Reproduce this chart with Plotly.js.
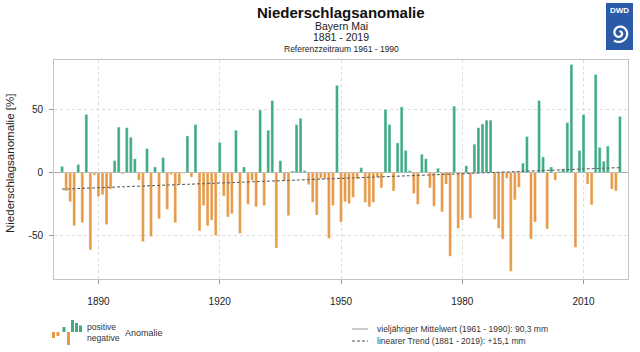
<!DOCTYPE html>
<html>
<head>
<meta charset="utf-8">
<script src="https://cdn.plot.ly/plotly-3.0.1.min.js"></script>
<style>
html,body{margin:0;padding:0;background:#fff;}
#chart{width:640px;height:352px;}
</style>
</head>
<body>
<div id="chart"></div>
<script>
// ---- data ----
const firstYear = 1881;
const lastYear = 2019;
// precipitation anomaly [%] per year, May, Bavaria (1881 ... 2019)
const anomaly = [
  // 1881-1890
  5, -14.5, -23, -42, 6.5, -39.5, 46, -61, -2, -19,
  // 1891-1900
  -17.5, -41, -13, 9.5, 36, -1, 35.5, 28, 11, -6,
  // 1901-1910
  -54.5, 19, -50.5, 4.5, -36.5, 12, -29, -1.5, -39.5, -9,
  // 1911-1920
  -0.5, 29, -3.5, 38, -46, -26, -42, -37.5, -49.5, 24,
  // 1921-1930
  -18.5, -35, -32.5, 33.5, -48, 4.5, -25, -6, -27, 49.5,
  // 1931-1940
  -26, 33.5, 57, -59.5, 9.5, -6, -34, 1.3, 38, 43,
  // 1941-1950
  1.6, -9.5, -23.5, -33.5, -4.5, -5, -52, -26, 69, -39,
  // 1951-1960
  -23, -24.5, -19.5, -5, 4, -23.5, -27, -23.5, -3.5, -12,
  // 1961-1970
  50, 38, -14.5, 23.5, 52, 17.5, 1.6, -16.5, -25, 14.5,
  // 1971-1980
  11, -12, -26.5, 3.5, -31, -9, -66, 52.5, -44, -37.5,
  // 1981-1990
  5.5, -36, 22.5, 35.5, 38.5, 41.5, 41.5, -37, -44, -52.5,
  // 1991-2000
  -4.5, -78, -21.5, -11.5, 7.5, 28.5, -52.5, -39, 57, 12.5,
  // 2001-2010
  -44.5, 4.5, -6, 1, 3, 39.5, 85.5, -59, 17.5, 46,
  // 2011-2019
  -9, -25.5, 77.5, 20, 9, 21, -13, -14.5, 44.5
];
const trendYears = [1881, 2019];
const trendValues = [-13, 4];
const xTickVals = [1890, 1920, 1950, 1980, 2010];
const xTickText = ['1890', '1920', '1950', '1980', '2010'];
const yTickVals = [-50, 0, 50];
const yTickText = ['-50', '0', '50'];

const years = [];
for (let y = firstYear; y <= lastYear; y++) years.push(y);

const posX = [], posY = [], negX = [], negY = [];
years.forEach((yr, i) => {
  const v = anomaly[i];
  if (v >= 0) { posX.push(yr); posY.push(v); } else { negX.push(yr); negY.push(v); }
});

// ---- styles ----
const GREEN = '#3eab85';
const ORANGE = '#e69a47';
const FONT = 'Liberation Sans, Arial, sans-serif';

// pixel -> paper helpers (plot area: x 54..628, y 60..279)
const L = 54, R = 628, T = 60, B = 279;
const px = x => (x - L) / (R - L);
const py = y => (B - y) / (B - T);

const traces = [
  {
    type: 'bar', x: posX, y: posY, width: 0.72,
    marker: {color: GREEN, line: {color: 'rgba(255,255,255,0.7)', width: 0.5}},
    hoverinfo: 'x+y', showlegend: false
  },
  {
    type: 'bar', x: negX, y: negY, width: 0.72,
    marker: {color: ORANGE, line: {color: 'rgba(255,255,255,0.7)', width: 0.5}},
    hoverinfo: 'x+y', showlegend: false
  },
  {
    type: 'scatter', mode: 'lines', x: trendYears, y: trendValues,
    line: {color: '#666666', width: 1.1, dash: '3px,2px'},
    hoverinfo: 'skip', showlegend: false
  }
];

const annotations = [
  {text: '<b>Niederschlagsanomalie</b>', x: px(341), y: py(12.5), font: {size: 15, color: '#111'}},
  {text: 'Bayern Mai', x: px(341), y: py(25.5), font: {size: 10.5, color: '#222'}},
  {text: '1881 - 2019', x: px(341), y: py(37), font: {size: 10.5, color: '#222'}},
  {text: 'Referenzzeitraum 1961 - 1990', x: px(341), y: py(49), font: {size: 8.5, color: '#222'}},
  {text: 'Niederschlagsanomalie [%]', x: px(10), y: py(164), textangle: -90, font: {size: 11.5, color: '#222'}},
  {text: '<b>DWD</b>', x: px(619.5), y: py(10.5), font: {size: 8, color: '#ffffff'}},
  {text: 'positive', x: px(86), y: py(327), xanchor: 'left', font: {size: 8.6, color: '#333'}},
  {text: 'negative', x: px(86), y: py(338), xanchor: 'left', font: {size: 8.6, color: '#333'}},
  {text: 'Anomalie', x: px(124), y: py(333), xanchor: 'left', font: {size: 9, color: '#333'}},
  {text: 'vieljähriger Mittelwert (1961 - 1990): 90,3 mm', x: px(376), y: py(329), xanchor: 'left', font: {size: 8.5, color: '#333'}},
  {text: 'linearer Trend (1881 - 2019): +15,1 mm', x: px(376), y: py(341), xanchor: 'left', font: {size: 8.5, color: '#333'}}
].map(a => Object.assign({xref: 'paper', yref: 'paper', showarrow: false, xanchor: 'center', yanchor: 'middle', borderpad: 0}, a));

// decorative shapes: logo + legend icons
function rectPx(x0, y0, x1, y1, color) {
  return {type: 'rect', xref: 'paper', yref: 'paper', x0: px(x0), x1: px(x1), y0: py(y0), y1: py(y1),
          fillcolor: color, line: {width: 0}, layer: 'above'};
}
const shapes = [];
shapes.push(rectPx(606, 3, 633, 50, '#2a5aa8'));
// spiral
(function(){
  const cx = 619.5, cy = 33;
  let d = '';
  const n = 60;
  for (let k = 0; k <= n; k++) {
    const t = k / n;
    const ang = -Math.PI / 2 + t * 3.2 * Math.PI;
    const r = 1.2 + 8.2 * t;
    const X = px(cx + r * Math.cos(ang));
    const Y = py(cy + r * Math.sin(ang));
    d += (k === 0 ? 'M ' : ' L ') + X.toFixed(5) + ',' + Y.toFixed(5);
  }
  shapes.push({type: 'path', xref: 'paper', yref: 'paper', path: d, line: {color: '#ffffff', width: 2.2}, layer: 'above'});
})();
// legend mini bars
shapes.push(rectPx(52, 332, 55, 338, ORANGE));
shapes.push(rectPx(56.5, 332, 59.5, 336, ORANGE));
shapes.push(rectPx(67, 332, 70, 345, ORANGE));
shapes.push(rectPx(62.5, 327, 65.5, 332, GREEN));
shapes.push(rectPx(71, 320, 74, 332, GREEN));
shapes.push(rectPx(75, 323, 78, 332, GREEN));
shapes.push(rectPx(79, 325.5, 82, 332, GREEN));
// legend lines
shapes.push({type: 'line', xref: 'paper', yref: 'paper', x0: px(352), x1: px(368), y0: py(329), y1: py(329), line: {color: '#999', width: 1}});
shapes.push({type: 'line', xref: 'paper', yref: 'paper', x0: px(352), x1: px(368), y0: py(341), y1: py(341), line: {color: '#555', width: 1, dash: '3px,2px'}});

const layout = {
  width: 640, height: 352,
  margin: {l: L, r: 640 - R, t: T, b: 352 - B, pad: 0},
  paper_bgcolor: '#ffffff', plot_bgcolor: '#ffffff',
  font: {family: FONT, color: '#333'},
  barmode: 'overlay', bargap: 0,
  showlegend: false,
  xaxis: {
    range: [1879, 2021], tickmode: 'array', tickvals: xTickVals, ticktext: xTickText,
    ticks: 'outside', ticklen: 4, tickcolor: '#999', tickfont: {size: 10, color: '#222'},
    ticklabelstandoff: 9,
    showgrid: true, gridcolor: '#dcdcdc', griddash: 'dot', gridwidth: 1,
    showline: true, linecolor: '#c4c4c4', linewidth: 1, mirror: true, zeroline: false
  },
  yaxis: {
    range: [-84, 89], tickmode: 'array', tickvals: yTickVals, ticktext: yTickText,
    ticks: 'outside', ticklen: 4, tickcolor: '#999', tickfont: {size: 10, color: '#222'},
    ticklabelstandoff: 4,
    showgrid: true, gridcolor: '#dcdcdc', griddash: 'dot', gridwidth: 1,
    zeroline: true, zerolinecolor: '#a8a8a8', zerolinewidth: 1,
    showline: true, linecolor: '#c4c4c4', linewidth: 1, mirror: true
  },
  annotations: annotations,
  shapes: shapes
};

Plotly.newPlot('chart', traces, layout, {staticPlot: true, displayModeBar: false});
</script>
</body>
</html>
